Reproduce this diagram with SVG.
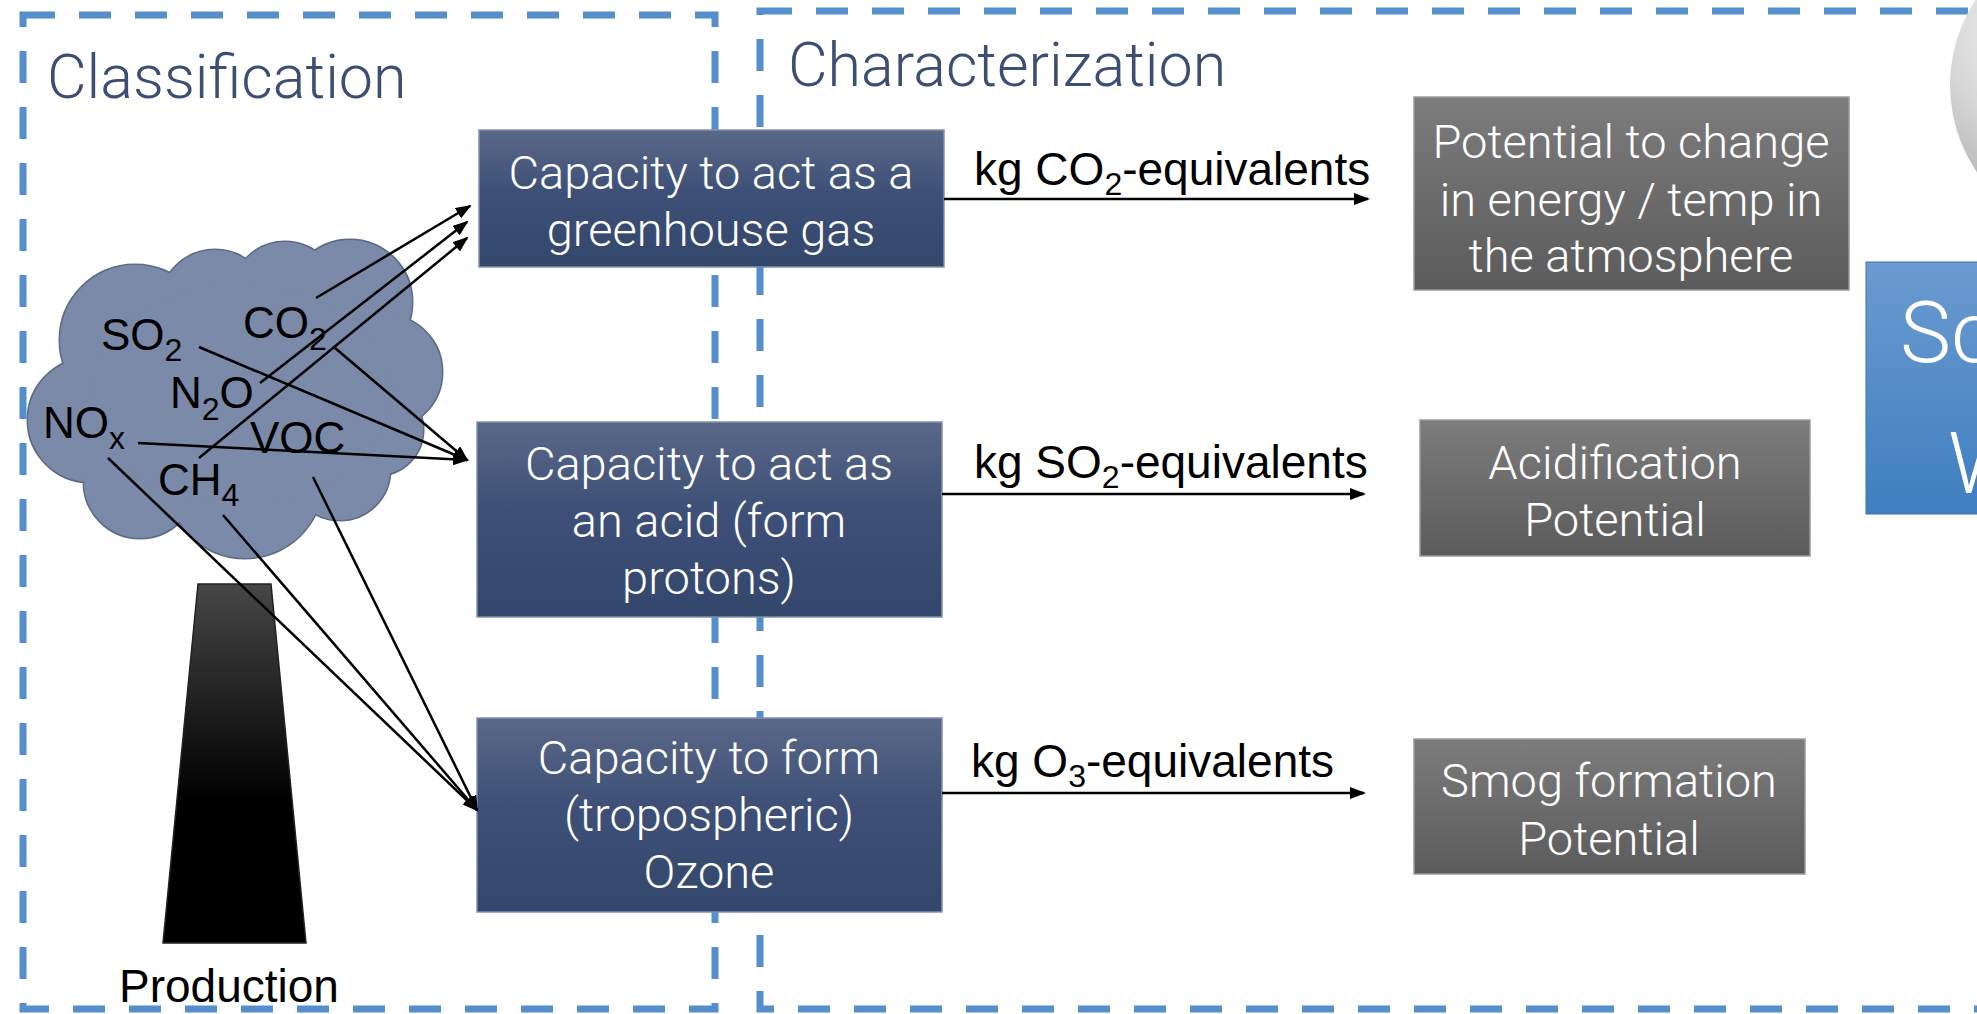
<svg xmlns="http://www.w3.org/2000/svg" xmlns:xlink="http://www.w3.org/1999/xlink" width="1977" height="1014" viewBox="0 0 1977 1014">
  <defs>
    <linearGradient id="navyFill" x1="0" y1="0" x2="0" y2="1">
      <stop offset="0" stop-color="#5a6888"/>
      <stop offset="0.45" stop-color="#3e5077"/>
      <stop offset="1" stop-color="#33466c"/>
    </linearGradient>
    <linearGradient id="greyFill" x1="0" y1="0" x2="0" y2="1">
      <stop offset="0" stop-color="#7c7c7c"/>
      <stop offset="1" stop-color="#5b5b5b"/>
    </linearGradient>
    <linearGradient id="blueFill" x1="0" y1="0" x2="0" y2="1">
      <stop offset="0" stop-color="#6b9bd0"/>
      <stop offset="1" stop-color="#3f7ec0"/>
    </linearGradient>
    <linearGradient id="stackFill" x1="0" y1="0" x2="0" y2="1">
      <stop offset="0" stop-color="#474747"/>
      <stop offset="0.6" stop-color="#000"/>
      <stop offset="1" stop-color="#000"/>
    </linearGradient>
    <radialGradient id="sphereFill" cx="0.35" cy="0.3" r="0.75">
      <stop offset="0" stop-color="#fbfbfb"/>
      <stop offset="0.5" stop-color="#d6d6d6"/>
      <stop offset="1" stop-color="#9c9c9c"/>
    </radialGradient>
    <marker id="arrow" viewBox="0 0 16 12" refX="14" refY="6" markerWidth="16" markerHeight="12" markerUnits="userSpaceOnUse" orient="auto">
      <path d="M0,0 L16,6 L0,12 z" fill="#000"/>
    </marker>
    <g id="cloudShape">
      <circle cx="90" cy="420" r="62"/>
      <circle cx="135" cy="340" r="75"/>
      <circle cx="215" cy="305" r="55"/>
      <circle cx="285" cy="295" r="53"/>
      <circle cx="350" cy="302" r="62"/>
      <circle cx="385" cy="372" r="57"/>
      <circle cx="378" cy="430" r="45"/>
      <circle cx="340" cy="470" r="50"/>
      <circle cx="245" cy="480" r="78"/>
      <circle cx="140" cy="482" r="56"/>
      <ellipse cx="240" cy="395" rx="150" ry="110"/>
    </g>
    <style>
      .frame { fill: none; stroke: #558ecc; stroke-width: 7; stroke-dasharray: 32 24; }
      .title { font-family: Roboto, "Open Sans", "Liberation Sans", sans-serif; font-weight: 300; font-size: 61px; fill: #3c4e74; }
      .light { font-family: Roboto, "Open Sans", "Liberation Sans", sans-serif; font-weight: 300; font-size: 47px; fill: #ffffff; text-anchor: middle; }
      .navy { fill: url(#navyFill); stroke: #8290ae; stroke-width: 1.5; }
      .grey { fill: url(#greyFill); stroke: #9a9a9a; stroke-width: 1.5; }
      .chem { font-family: "Liberation Sans", Arial, sans-serif; font-size: 44px; fill: #000; }
      .sub { font-size: 32px; }
      .unit { font-family: "Liberation Sans", Arial, sans-serif; font-size: 46px; fill: #000; }
      .link { stroke: #000; stroke-width: 2.5; fill: none; marker-end: url(#arrow); }
    </style>
  </defs>

  <rect width="1977" height="1014" fill="#ffffff"/>

  <!-- dashed section frames -->
  <g id="sections">
    <rect class="frame" x="23" y="15" width="692" height="994"/>
    <rect class="frame" x="760" y="11" width="1300" height="998"/>
    <text class="title" x="47" y="98">Classification</text>
    <text class="title" x="788" y="86">Characterization</text>
  </g>

  <!-- weighting sphere and box at the right edge -->
  <g id="sphere">
    <circle cx="2105" cy="85" r="155" fill="url(#sphereFill)"/>
  </g>
  <g id="weighting">
    <rect x="1866" y="262" width="200" height="252" fill="url(#blueFill)" stroke="#3a72b0" stroke-width="1"/>
    <text x="1900" y="362" font-family="Roboto, 'Open Sans', 'Liberation Sans', sans-serif" font-weight="300" font-size="86" fill="#ffffff">Sc</text>
    <text x="1948" y="493" font-family="Roboto, 'Open Sans', 'Liberation Sans', sans-serif" font-weight="300" font-size="86" fill="#ffffff">W</text>
  </g>

  <!-- production: chimney and emission cloud -->
  <g id="production">
    <polygon points="198,584 271,584 306,943 163,943" fill="url(#stackFill)" stroke="#222" stroke-width="1.5"/>
    <text x="229" y="1002" font-family="'Liberation Sans', Arial, sans-serif" font-size="46" fill="#000" text-anchor="middle">Production</text>
  </g>
  <g id="cloud">
    <use xlink:href="#cloudShape" fill="#7b8aa8" stroke="#5d6b88" stroke-width="3"/>
    <use xlink:href="#cloudShape" fill="#7b8aa8"/>
    <text class="chem" x="101" y="350">SO<tspan class="sub" dy="11">2</tspan></text>
    <text class="chem" x="243" y="338">CO<tspan class="sub" dy="12">2</tspan></text>
    <text class="chem" x="170" y="408">N<tspan class="sub" dy="12">2</tspan><tspan dy="-12">O</tspan></text>
    <text class="chem" x="43" y="438">NO<tspan class="sub" dy="11">x</tspan></text>
    <text class="chem" x="250" y="453">VOC</text>
    <text class="chem" x="158" y="495">CH<tspan class="sub" dy="11">4</tspan></text>
  </g>

  <!-- impact category nodes -->
  <g id="greenhouse">
    <rect class="navy" x="479" y="130" width="465" height="137"/>
    <text class="light" x="711" y="189">Capacity to act as a</text>
    <text class="light" x="711" y="246">greenhouse gas</text>
  </g>
  <g id="acid">
    <rect class="navy" x="477" y="422" width="465" height="195"/>
    <text class="light" x="709" y="480">Capacity to act as</text>
    <text class="light" x="709" y="537">an acid (form</text>
    <text class="light" x="709" y="594">protons)</text>
  </g>
  <g id="ozone">
    <rect class="navy" x="477" y="718" width="465" height="194"/>
    <text class="light" x="709" y="774">Capacity to form</text>
    <text class="light" x="709" y="831">(tropospheric)</text>
    <text class="light" x="709" y="888">Ozone</text>
  </g>

  <!-- characterization result nodes -->
  <g id="gwp">
    <rect class="grey" x="1414" y="97" width="435" height="193"/>
    <text class="light" x="1631" y="158">Potential to change</text>
    <text class="light" x="1631" y="216">in energy / temp in</text>
    <text class="light" x="1631" y="272">the atmosphere</text>
  </g>
  <g id="ap">
    <rect class="grey" x="1420" y="420" width="390" height="136"/>
    <text class="light" x="1615" y="479">Acidification</text>
    <text class="light" x="1615" y="536">Potential</text>
  </g>
  <g id="pocp">
    <rect class="grey" x="1414" y="739" width="391" height="135"/>
    <text class="light" x="1609" y="797">Smog formation</text>
    <text class="light" x="1609" y="855">Potential</text>
  </g>

  <!-- connectors -->
  <g id="connectors">
    <line class="link" x1="316" y1="298" x2="470" y2="206"/>
    <line class="link" x1="260" y1="383" x2="467" y2="222"/>
    <line class="link" x1="199" y1="458" x2="467" y2="238"/>
    <line class="link" x1="199" y1="347" x2="467" y2="460"/>
    <line class="link" x1="335" y1="348" x2="467" y2="460"/>
    <line class="link" x1="138" y1="443" x2="467" y2="460"/>
    <line class="link" x1="108" y1="458" x2="477" y2="810"/>
    <line class="link" x1="223" y1="515" x2="477" y2="810"/>
    <line class="link" x1="313" y1="477" x2="477" y2="810"/>
    <line class="link" x1="944" y1="199" x2="1368" y2="199"/>
    <line class="link" x1="942" y1="494" x2="1364" y2="494"/>
    <line class="link" x1="942" y1="793" x2="1364" y2="793"/>
    <text class="unit" x="974" y="185">kg CO<tspan font-size="32" dy="10">2</tspan><tspan dy="-10">-equivalents</tspan></text>
    <text class="unit" x="974" y="478">kg SO<tspan font-size="32" dy="10">2</tspan><tspan dy="-10">-equivalents</tspan></text>
    <text class="unit" x="971" y="777">kg O<tspan font-size="32" dy="10">3</tspan><tspan dy="-10">-equivalents</tspan></text>
  </g>
</svg>
